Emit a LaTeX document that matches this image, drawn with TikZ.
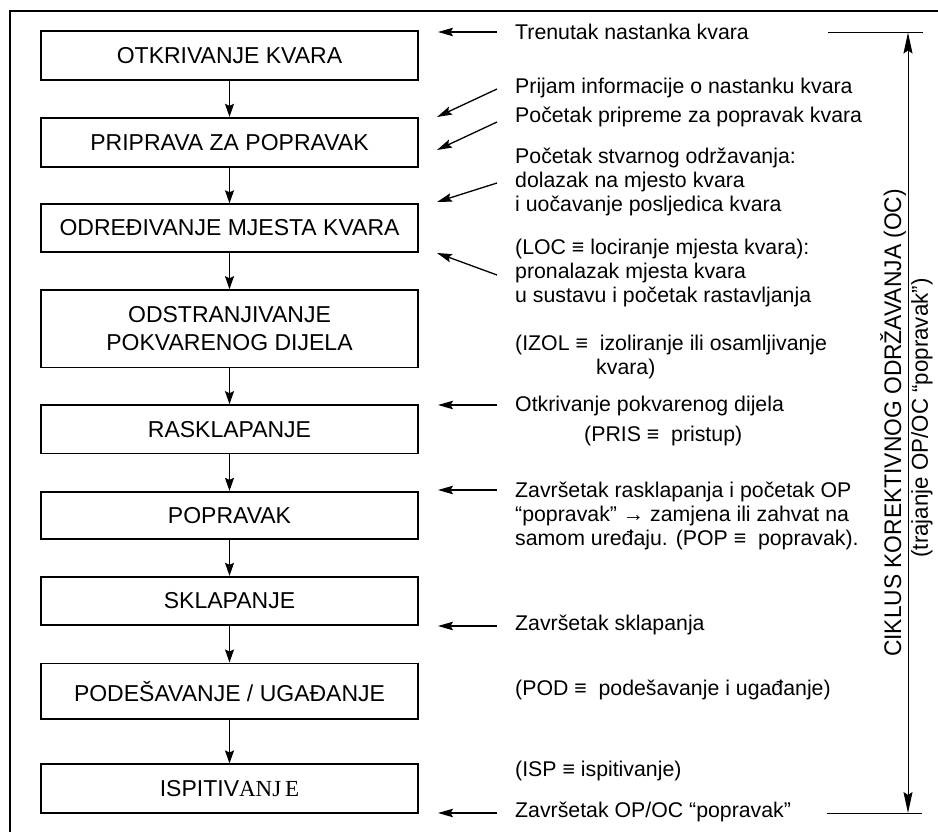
\documentclass[tikz,border=0pt]{standalone}
\usepackage{fontspec}
\usepackage{graphicx}
\setmainfont{Liberation Sans}
\newfontfamily\serifpart{Liberation Serif}
\usetikzlibrary{arrows.meta}
\begin{document}
\begin{tikzpicture}[x=1pt,y=-1pt,
  box/.style={draw, line width=1.7pt, minimum width=377pt, inner sep=0pt, align=center,
    font=\fontsize{23}{28}\selectfont},
  note/.style={anchor=west, inner sep=0pt, align=left, font=\fontsize{21.3}{24}\selectfont},
  flow/.style={line width=1.3pt, -{Stealth[length=13pt,width=9pt,inset=2pt]}},
  pointer/.style={line width=1.3pt, -{Stealth[length=15pt,width=8.5pt,inset=2.5pt]}},
  dim/.style={line width=1pt},
  frame/.style={line width=2pt}]
\useasboundingbox (0,0) rectangle (938,832);
% outer frame (left and top edges visible)
\draw[frame] (10,832) -- (10,11) -- (938,11);

% flow boxes
\node[box, minimum height=49pt]   (b1) at (229.5,55.5)  {OTKRIVANJE KVARA};
\node[box, minimum height=49pt]   (b2) at (229.5,142.2) {PRIPRAVA ZA POPRAVAK};
\node[box, minimum height=47.7pt] (b3) at (229.5,228)   {ODREĐIVANJE MJESTA KVARA};
\node[box, minimum height=77.3pt] (b4) at (229.5,328.7) {ODSTRANJIVANJE\\POKVARENOG DIJELA};
\node[box, minimum height=48.3pt] (b5) at (229.5,429.2) {RASKLAPANJE};
\node[box, minimum height=47.6pt] (b6) at (229.5,515.5) {POPRAVAK};
\node[box, minimum height=48.3pt] (b7) at (229.5,600.8) {SKLAPANJE};
\node[box, minimum height=55.7pt] (b8) at (229.5,691.2) {PODEŠAVANJE / UGAĐANJE};
\node[box, minimum height=49pt]   (b9) at (229.5,788.8) {ISPITIV{\serifpart ANJ\,E}};

\foreach \a/\b in {b1/b2,b2/b3,b3/b4,b4/b5,b5/b6,b6/b7,b7/b8,b8/b9}
  \draw[flow] (\a) -- (\b);

% notes
\node[note] (t1) at (515,32)  {Trenutak nastanka kvara};
\node[note] (t2) at (515,88)  {Prijam informacije o nastanku kvara};
\node[note] (t3) at (515,117) {Početak pripreme za popravak kvara};
\node[note] (t4) at (515,182) {Početak stvarnog održavanja:\\dolazak na mjesto kvara\\i uočavanje posljedica kvara};
\node[note] (t5) at (515,273) {(LOC ≡ lociranje mjesta kvara):\\pronalazak mjesta kvara\\u sustavu i početak rastavljanja};
\node[note] (t6a) at (515,345) {(IZOL ≡\ \ izoliranje ili osamljivanje};
\node[note] (t6b) at (596,369) {kvara)};
\node[note] (t7a) at (515,406) {Otkrivanje pokvarenog dijela};
\node[note] (t7b) at (584,436) {(PRIS ≡\ \ pristup)};
\node[note] (t8) at (515,516) {Završetak rasklapanja i početak OP\\“popravak” → zamjena ili zahvat na\\samom uređaju. (POP ≡\ \ popravak).};
\node[note] (t9) at (515,625) {Završetak sklapanja};
\node[note] (t10) at (515,690) {(POD ≡\ \ podešavanje i ugađanje)};
\node[note] (t11) at (515,771) {(ISP ≡ ispitivanje)};
\node[note] (t12) at (515,812) {Završetak OP/OC “popravak”};

% pointer arrows
\coordinate (s1) at (497,32);  \coordinate (e1) at (438,32);
\coordinate (s2) at (497,89);  \coordinate (e2) at (437,117);
\coordinate (s3) at (497,122); \coordinate (e3) at (437,150);
\coordinate (s4) at (497,183); \coordinate (e4) at (437,202);
\coordinate (s5) at (497,275); \coordinate (e5) at (437,253);
\coordinate (s6) at (497,405); \coordinate (e6) at (438,405);
\coordinate (s7) at (497,490); \coordinate (e7) at (438,490);
\coordinate (s8) at (497,626); \coordinate (e8) at (438,626);
\coordinate (s9) at (497,813); \coordinate (e9) at (438,813);
\foreach \i in {1,...,9}
  \draw[pointer] (s\i) -- (e\i);

% dimension line on the right
\coordinate (dt1) at (828,32.5); \coordinate (dt2) at (923,32.5);
\coordinate (db1) at (827,813);  \coordinate (db2) at (922,813);
\coordinate (dtop) at (908,32.5); \coordinate (dbot) at (908,813);
\draw[dim] (dt1) -- (dt2);
\draw[dim] (db1) -- (db2);
\draw[dim, {Stealth[length=21pt,width=9pt,inset=3pt]}-{Stealth[length=21pt,width=9pt,inset=3pt]}] (dtop) -- (dbot);

\node[rotate=90, inner sep=0pt, font=\fontsize{24}{28}\selectfont] (cyc) at (893,423)
  {\scalebox{0.95}[1]{CIKLUS KOREKTIVNOG ODRŽAVANJA (OC)}};
\node[rotate=90, inner sep=0pt, font=\fontsize{23}{28}\selectfont] (dur) at (922,418)
  {\scalebox{0.97}[1]{(trajanje OP/OC “popravak”)}};
\end{tikzpicture}
\end{document}
